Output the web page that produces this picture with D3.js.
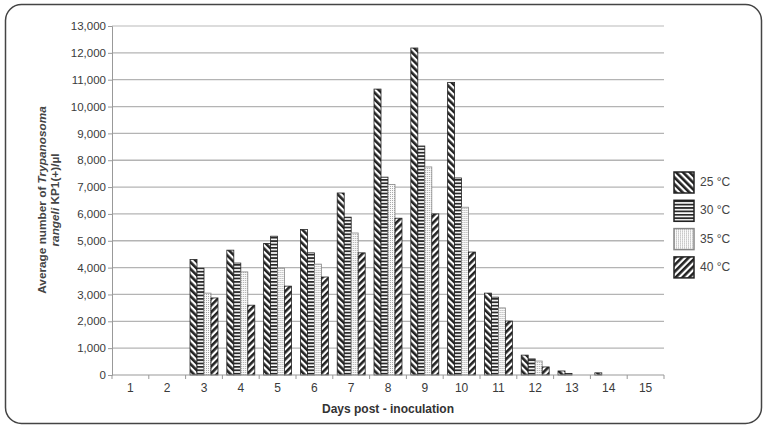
<!DOCTYPE html>
<html>
<head>
<meta charset="utf-8">
<script src="https://cdn.jsdelivr.net/npm/d3@7"></script>
<style>
  body { margin: 0; background: #fff; }
  svg { display: block; font-family: "Liberation Sans", Arial, sans-serif; }
</style>
</head>
<body>
<svg id="chart"></svg>
<script>
// Data
const days = ["1", "2", "3", "4", "5", "6", "7", "8", "9", "10", "11", "12", "13", "14", "15"];
const seriesNames = ["25 °C", "30 °C", "35 °C", "40 °C"];
const values25 = [0, 0, 4300, 4650, 4900, 5420, 6780, 10650, 12180, 10900, 3050, 740, 150, 80, 0];
const values30 = [0, 0, 3980, 4170, 5170, 4550, 5880, 7370, 8530, 7340, 2900, 600, 60, 0, 0];
const values35 = [0, 0, 3050, 3840, 3980, 4130, 5290, 7100, 7750, 6250, 2500, 520, 0, 0, 0];
const values40 = [0, 0, 2870, 2600, 3310, 3650, 4550, 5840, 6000, 4580, 2010, 300, 0, 0, 0];
const yTicks = d3.range(0, 13001, 1000);

const seriesValues = [values25, values30, values35, values40];
const patternIds = ["p25", "p30", "p35", "p40"];

const W = 767, H = 428;
const margin = { top: 26, right: 103, bottom: 53, left: 112 };
const width = W - margin.left - margin.right;
const height = H - margin.top - margin.bottom;

const svg = d3.select("#chart").attr("width", W).attr("height", H);

// outer rounded frame
svg.append("rect")
  .attr("x", 5.5).attr("y", 4.5)
  .attr("width", W - 11).attr("height", H - 9)
  .attr("rx", 16).attr("ry", 16)
  .attr("fill", "none")
  .attr("stroke", "#444")
  .attr("stroke-width", 1.5);

// fill patterns
const defs = svg.append("defs");

function stripes(id, angle) {
  const p = defs.append("pattern")
    .attr("id", id)
    .attr("patternUnits", "userSpaceOnUse")
    .attr("width", 4.8).attr("height", 4.8)
    .attr("patternTransform", `rotate(${angle})`);
  p.append("rect").attr("width", 4.8).attr("height", 4.8).attr("fill", "#fff");
  p.append("rect").attr("width", 2.6).attr("height", 4.8).attr("fill", "#222");
}
stripes("p25", -45);
stripes("p40", 45);

const ph = defs.append("pattern")
  .attr("id", "p30")
  .attr("patternUnits", "userSpaceOnUse")
  .attr("width", 4).attr("height", 3.4);
ph.append("rect").attr("width", 4).attr("height", 3.4).attr("fill", "#fff");
ph.append("rect").attr("width", 4).attr("height", 1.8).attr("fill", "#2a2a2a");

const pd = defs.append("pattern")
  .attr("id", "p35")
  .attr("patternUnits", "userSpaceOnUse")
  .attr("width", 2).attr("height", 2);
pd.append("rect").attr("width", 2).attr("height", 2).attr("fill", "#fafafa");
pd.append("rect").attr("width", 1).attr("height", 1).attr("fill", "#a8a8a8");

const g = svg.append("g")
  .attr("transform", `translate(${margin.left},${margin.top})`);

// scales
const x0 = d3.scaleBand()
  .domain(days)
  .range([0, width])
  .paddingInner(0.24)
  .paddingOuter(0.12);

const x1 = d3.scaleBand()
  .domain(seriesNames)
  .range([0, x0.bandwidth()]);

const y = d3.scaleLinear()
  .domain([0, 13000])
  .range([height, 0]);

// gridlines
g.append("g")
  .selectAll("line")
  .data(yTicks.filter(d => d > 0))
  .join("line")
    .attr("x1", 0).attr("x2", width)
    .attr("y1", d => y(d)).attr("y2", d => y(d))
    .attr("stroke", d => d === 13000 ? "#d0d0d0" : "#b4b4b4")
    .attr("stroke-width", 1.3);

// y axis
const yAxis = g.append("g")
  .call(d3.axisLeft(y).tickValues(yTicks).tickFormat(d3.format(",")).tickSize(4).tickPadding(2));
yAxis.select(".domain").attr("stroke", "#999");
yAxis.selectAll(".tick line").attr("stroke", "#999");
yAxis.selectAll("text")
  .attr("fill", "#3a3a3a")
  .style("font-size", "11.5px");

// bars
const groups = g.append("g")
  .selectAll("g")
  .data(days)
  .join("g")
    .attr("transform", d => `translate(${x0(d)},0)`);

groups.selectAll("rect")
  .data((d, i) => seriesNames.map((s, k) => ({ s, k, v: seriesValues[k][i] })))
  .join("rect")
    .filter(d => d.v > 0)
    .attr("x", d => x1(d.s))
    .attr("width", x1.bandwidth())
    .attr("y", d => y(d.v))
    .attr("height", d => y(0) - y(d.v))
    .attr("fill", d => `url(#${patternIds[d.k]})`)
    .attr("stroke", d => d.k === 2 ? "#888" : "#222")
    .attr("stroke-width", 0.8);

// x axis with ticks on category boundaries
const xAxis = g.append("g").attr("transform", `translate(0,${height})`);
xAxis.append("line")
  .attr("x1", 0).attr("x2", width)
  .attr("stroke", "#999").attr("stroke-width", 1.2);
xAxis.selectAll("line.bound")
  .data(d3.range(days.length + 1))
  .join("line")
    .attr("class", "bound")
    .attr("x1", i => i * x0.step()).attr("x2", i => i * x0.step())
    .attr("y1", 0).attr("y2", 4)
    .attr("stroke", "#999");
xAxis.selectAll("text")
  .data(days)
  .join("text")
    .attr("x", d => x0(d) + x0.bandwidth() / 2)
    .attr("y", 17)
    .attr("text-anchor", "middle")
    .attr("fill", "#3a3a3a")
    .style("font-size", "12px")
    .text(d => d);

// axis titles
svg.append("text")
  .attr("x", margin.left + width / 2)
  .attr("y", 413)
  .attr("text-anchor", "middle")
  .attr("fill", "#333")
  .style("font-size", "12px")
  .style("font-weight", "bold")
  .text("Days post - inoculation");

const yTitle = svg.append("text")
  .attr("transform", "translate(0,200) rotate(-90)")
  .attr("text-anchor", "middle")
  .attr("fill", "#444")
  .style("font-size", "11.8px")
  .style("font-weight", "bold");
const l1 = yTitle.append("tspan").attr("x", 0).attr("y", 46);
l1.append("tspan").text("Average number of  ");
l1.append("tspan").style("font-style", "italic").text("Trypanosoma");
const l2 = yTitle.append("tspan").attr("x", 0).attr("y", 59);
l2.append("tspan").style("font-style", "italic").text("rangeli");
l2.append("tspan").text(" KP1(+)/µl");

// legend
const legend = svg.append("g").attr("transform", "translate(674,172)");
const items = legend.selectAll("g")
  .data(seriesNames)
  .join("g")
    .attr("transform", (d, i) => `translate(0,${i * 28.3})`);
items.append("rect")
  .attr("width", 20).attr("height", 21)
  .attr("fill", (d, i) => `url(#${patternIds[i]})`)
  .attr("stroke", (d, i) => i === 2 ? "#888" : "#222")
  .attr("stroke-width", 1.5);
items.append("text")
  .attr("x", 26).attr("y", 11)
  .attr("dominant-baseline", "middle")
  .attr("fill", "#444")
  .style("font-size", "12px")
  .text(d => d);
</script>
</body>
</html>
